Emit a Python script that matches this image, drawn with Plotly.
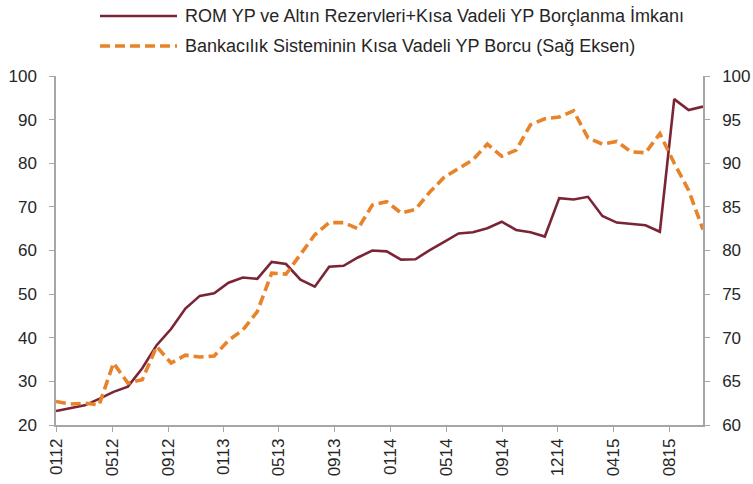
import plotly.graph_objects as go

# ---------------------------------------------------------------------------
# Data
# ---------------------------------------------------------------------------

RESERVES = [
    23.2, 23.9, 24.5, 26.0, 27.6, 28.8, 33.0, 38.3, 42.0, 46.7,
    49.6, 50.2, 52.6, 53.8, 53.5, 57.4, 56.9, 53.3, 51.7, 56.3,
    56.5, 58.4, 60.0, 59.8, 57.9, 58.0, 60.1, 62.0, 63.9, 64.2,
    65.1, 66.6, 64.7, 64.2, 63.2, 72.0, 71.7, 72.3, 67.9, 66.4,
    66.1, 65.8, 64.3, 94.7, 92.2, 93.0,
]

SHORT_DEBT = [
    62.7, 62.4, 62.5, 62.3, 67.1, 64.8, 65.2, 69.0, 67.1, 68.0,
    67.8, 67.9, 69.7, 70.9, 73.0, 77.4, 77.3, 79.5, 81.8, 83.2,
    83.2, 82.5, 85.2, 85.6, 84.3, 84.7, 86.7, 88.4, 89.4, 90.4,
    92.2, 90.8, 91.5, 94.4, 95.1, 95.3, 96.0, 92.9, 92.2, 92.5,
    91.3, 91.2, 93.4, 90.0, 86.9, 82.4,
]

PERIODS = list(range(len(RESERVES)))

TICK_LABELS = ["0112", "0512", "0912", "0113", "0513", "0913",
               "0114", "0514", "0914", "1214", "0415", "0815"]
TICK_POS = [0, 3.94, 7.8, 11.67, 15.49, 19.38,
            23.26, 27.13, 31.02, 34.9, 38.75, 42.64]

NAME_RES = "ROM YP ve Altın Rezervleri+Kısa Vadeli YP Borçlanma İmkanı"
NAME_DEBT = "Bankacılık Sisteminin Kısa Vadeli YP Borcu (Sağ Eksen)"

# ---------------------------------------------------------------------------
# Style
# ---------------------------------------------------------------------------

_MAROON = "#7A2535"
_ORANGE = "#E8832A"
_AXIS = "#A6A6A6"
_TEXT = "#262626"
_FONT = "Liberation Sans, Arial, sans-serif"

fig = go.Figure()
fig.add_trace(
    go.Scatter(
        x=PERIODS, y=RESERVES, mode="lines", name=NAME_RES,
        line=dict(color=_MAROON, width=2.6),
        yaxis="y",
    )
)
fig.add_trace(
    go.Scatter(
        x=PERIODS, y=SHORT_DEBT, mode="lines", name=NAME_DEBT,
        line=dict(color=_ORANGE, width=3.6, dash="10px,5px"),
        yaxis="y2",
    )
)

axis_common = dict(
    showgrid=False, zeroline=False, showline=True, linecolor=_AXIS,
    linewidth=1.5, ticks="outside", ticklen=5, tickcolor=_AXIS,
    tickfont=dict(family=_FONT, size=17, color=_TEXT),
)

fig.update_layout(
    width=753, height=484,
    margin=dict(l=56, r=50, t=76, b=59),
    paper_bgcolor="white", plot_bgcolor="white",
    showlegend=False,
    xaxis=dict(
        range=[0, len(PERIODS) - 1],
        tickmode="array", tickvals=TICK_POS, ticktext=TICK_LABELS,
        tickangle=-90, automargin=False,
        **axis_common,
    ),
    yaxis=dict(range=[20, 100], dtick=10, ticklabelstandoff=9,
               automargin=False, **axis_common),
    yaxis2=dict(
        range=[60, 100], dtick=5, overlaying="y", side="right",
        ticklabelstandoff=9, automargin=False,
        **axis_common,
    ),
)

# Legend drawn by hand so the line samples are as long as in the original
legend_rows = [
    (1.172, _MAROON, 2.6, "solid", NAME_RES),
    (1.086, _ORANGE, 3.6, "10px,5px", NAME_DEBT),
]
for ypos, colour, width, dash, label in legend_rows:
    fig.add_shape(
        type="line", xref="paper", yref="paper",
        x0=0.068, x1=0.187, y0=ypos, y1=ypos,
        line=dict(color=colour, width=width, dash=dash),
    )
    fig.add_annotation(
        xref="paper", yref="paper", x=0.196, y=ypos,
        xanchor="left", yanchor="middle", showarrow=False,
        text=label, font=dict(family=_FONT, size=18, color=_TEXT),
    )

# drop the default 8px body margin so the figure fills the window
fig.write_html(
    "out.html",
    config={"displayModeBar": False},
    post_script="document.body.style.margin = '0px';",
)
